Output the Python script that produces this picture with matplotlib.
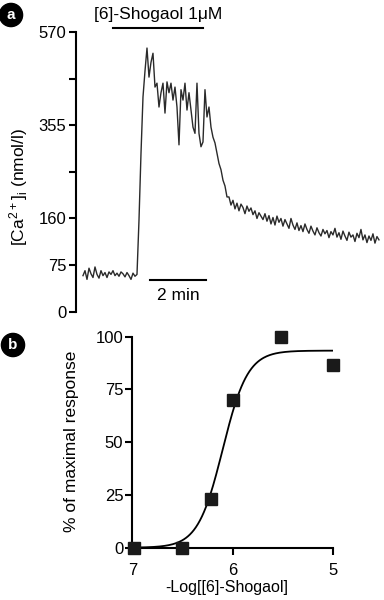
import numpy as np
import matplotlib.pyplot as plt
from matplotlib.scale import FuncScale

plt.rcParams["font.family"] = ["Liberation Sans", "DejaVu Sans"]
plt.rcParams["mathtext.default"] = "regular"

# ---- panel a: [Ca2+]i trace (nmol/l), one sample every ~4.3 s ----
sample_interval_s = 60 / 14
ca_trace = [
    # baseline
    58, 66, 52, 70, 61, 55, 72, 60, 54, 66, 58, 63, 55, 64, 60, 66, 58, 62,
    57, 64, 61, 56, 63, 58, 52, 62, 57,
    # rise
    60, 157, 296,
    # plateau during [6]-shogaol
    420, 480, 533, 466, 500, 521, 443, 452, 397, 430, 452, 383, 455, 430,
    452, 413, 443, 397, 314, 437, 413, 452, 390, 430, 390, 351, 338, 452,
    338, 310, 320, 437, 374, 397, 351,
    # decline
    330, 318, 296, 275, 262, 240, 228, 205,
    # slow recovery
    205, 188, 198, 180, 192, 176, 190, 183, 170, 186, 175, 182, 168, 176,
    160, 172, 165, 158, 170, 155, 166, 150, 162, 148, 165, 153, 160, 146,
    158, 150, 142, 160, 148, 140, 152, 138, 147, 136, 150, 140, 133, 146,
    137, 130, 143, 134, 128, 140, 132, 138, 125, 136, 130, 142, 126, 134,
    122, 137, 128, 120, 135, 126, 130, 118, 133, 125, 140, 121, 130, 116,
    128, 120, 132, 115, 127, 121,
]
ca_ticks = [0, 75, 160, 257.5, 355, 462.5, 570]
ca_ticklabels = ["0", "75", "160", "", "355", "", "570"]
drug_on_min, drug_off_min = 1.08, 4.30
scalebar_min = (2.39, 4.39)

# ---- panel b: concentration-response ----
log_conc = [6.98, 6.51, 6.22, 6.0, 5.52, 5.0]
response = [0, 0, 23, 70, 100, 86.6]
fit_top, fit_pec50, fit_hill = 93.4, 6.1, 3.5

t_min = np.arange(len(ca_trace)) * sample_interval_s / 60
tick_pos = np.arange(len(ca_ticks))

fig = plt.figure(figsize=(3.84, 6.0), dpi=100)

# panel a
ax = fig.add_axes([76 / 384, 1 - 311.7 / 600, 306 / 384, 279.7 / 600])
ax.set_yscale(FuncScale(ax.yaxis, (lambda v: np.interp(v, ca_ticks, tick_pos),
                                   lambda p: np.interp(p, tick_pos, ca_ticks))))
ax.plot(t_min, ca_trace, color="#2a2a2a", lw=1.0)
ax.set_xlim(-0.25, 10.68)
ax.set_ylim(0, 570)
ax.set_yticks(ca_ticks)
ax.set_yticklabels(ca_ticklabels)
for s in ["top", "right", "bottom"]:
    ax.spines[s].set_visible(False)
ax.spines["left"].set_linewidth(1.5)
ax.set_xticks([])
ax.tick_params(axis="y", direction="out", length=5, width=1.5, pad=2, labelsize=12)
ax.set_ylabel("[Ca$^{2+}$]$_i$ (nmol/l)", fontsize=12.5)
ax.yaxis.set_label_coords(-0.15, 0.446)
trans = ax.get_xaxis_transform()
ax.plot([drug_on_min, drug_off_min], [1.013, 1.013], color="black", lw=1.5,
        transform=trans, clip_on=False)
ax.text((drug_on_min + drug_off_min) / 2, 1.035, "[6]-Shogaol 1μM", transform=trans,
        ha="center", va="bottom", fontsize=12.5)
ax.plot(scalebar_min, [0.113, 0.113], color="black", lw=1.5, transform=trans, clip_on=False)
ax.text(sum(scalebar_min) / 2, 0.085, "2 min", transform=trans,
        ha="center", va="top", fontsize=12.5)

# panel b
bx = fig.add_axes([132.3 / 384, 1 - 547.7 / 600, 201 / 384, 211 / 600])
xfit = np.linspace(7, 5, 200)
yfit = fit_top / (1 + 10 ** (fit_hill * (xfit - fit_pec50)))
bx.plot(xfit, yfit, color="black", lw=1.3)
bx.plot(log_conc, response, "s", color="#1a1a1a", ms=9, clip_on=False, zorder=3)
bx.set_xlim(7, 5)
bx.set_ylim(0, 100)
bx.set_xticks([7, 6, 5])
bx.set_yticks([0, 25, 50, 75, 100])
for s in ["top", "right"]:
    bx.spines[s].set_visible(False)
for s in ["left", "bottom"]:
    bx.spines[s].set_linewidth(1.5)
bx.tick_params(axis="both", direction="out", length=5, width=1.5, labelsize=12)
bx.tick_params(axis="y", pad=1.5)
bx.tick_params(axis="x", pad=6)
bx.set_ylabel("% of maximal response", fontsize=12.5)
bx.yaxis.set_label_coords(-0.265, 0.502)
bx.set_xlabel("-Log[[6]-Shogaol]", fontsize=11.5)
bx.xaxis.set_label_coords(0.471, -0.155)

# panel letters
for lbl, (px, py) in {"a": (11, 15), "b": (13, 345)}.items():
    fig.text(px / 384, 1 - py / 600, lbl, color="white", fontsize=11, fontweight="bold",
             ha="center", va="center",
             bbox=dict(boxstyle="circle,pad=0.3", fc="black", ec="black"))

fig.savefig("out.png", dpi=100)
